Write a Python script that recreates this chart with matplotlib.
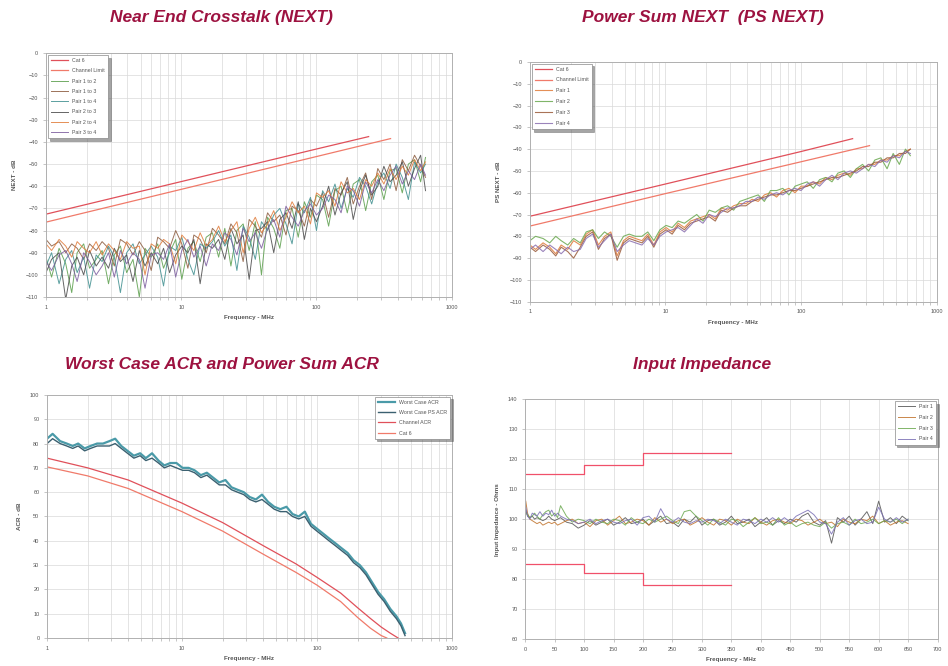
import matplotlib
matplotlib.use("Agg")
import matplotlib.pyplot as plt
from matplotlib.ticker import NullFormatter

plt.rcParams['font.family'] = ['Liberation Sans', 'DejaVu Sans']

TITLE_COLOR = '#9d1240'
LIMIT_COLOR = '#e0505a'
GRID_COLOR = '#d9d9d9'
TEXT_COLOR = '#555555'

# ---------------- NEXT / PS NEXT frequencies (MHz) ----------------
freq = [1.0, 1.1, 1.25, 1.4, 1.55, 1.7, 1.9, 2.1, 2.35,
        2.6, 2.9, 3.2, 3.55, 3.95, 4.4, 4.9, 5.4, 6.0,
        6.7, 7.4, 8.2, 9.1, 10.1, 11.2, 12.4, 13.8, 15.3,
        17.0, 18.9, 21.0, 23.3, 25.8, 28.7, 31.8, 35.3, 39.2,
        43.5, 48.3, 53.6, 59.5, 66.0, 73.3, 81.4, 90.3, 100,
        111, 123, 137, 152, 169, 187, 208, 231, 256,
        284, 315, 350, 388, 431, 478, 531, 589, 640]

next_labels = ['Pair 1 to 2', 'Pair 1 to 3', 'Pair 1 to 4',
               'Pair 2 to 3', 'Pair 2 to 4', 'Pair 3 to 4']
next_colors = ['#5a9e4b', '#8b5a3c', '#3f8f8f', '#4a4a4a', '#e07b39', '#7b5c9e']

next_12 = [-92, -101, -88, -95, -108, -90, -86, -97, -93,
           -89, -104, -91, -87, -99, -93, -110, -88, -92,
           -86, -97, -90, -84, -102, -88, -85, -94, -83,
           -81, -92, -79, -96, -80, -77, -89, -76, -100,
           -74, -79, -88, -71, -70, -83, -67, -74, -64,
           -66, -78, -62, -60, -72, -59, -57, -71, -58,
           -55, -66, -53, -52, -63, -50, -48, -58, -47]
next_13 = [-84, -87, -85, -90, -86, -88, -93, -86, -89,
           -85, -88, -96, -84, -86, -91, -85, -89, -98,
           -83, -85, -88, -80, -86, -97, -82, -84, -90,
           -79, -82, -86, -77, -81, -94, -75, -78, -83,
           -72, -76, -73, -82, -69, -71, -78, -66, -69,
           -63, -74, -61, -64, -56, -68, -60, -54, -66,
           -52, -57, -50, -62, -48, -53, -46, -51, -56]
next_14 = [-96, -90, -104, -93, -89, -99, -92, -106, -91,
           -94, -87, -92, -108, -90, -86, -95, -91, -87,
           -92, -105, -87, -89, -83, -93, -100, -86, -88,
           -85, -80, -87, -82, -98, -78, -83, -93, -76,
           -80, -73, -70, -77, -86, -68, -72, -65, -80,
           -62, -67, -59, -70, -61, -65, -56, -60, -68,
           -58, -54, -61, -50, -56, -66, -49, -54, -50]
next_23 = [-99, -93, -90, -111, -96, -92, -100, -89, -96,
           -92, -97, -88, -94, -91, -103, -89, -96, -90,
           -95, -88, -99, -91, -87, -90, -84, -104, -86,
           -88, -84, -93, -79, -86, -82, -102, -80, -79,
           -76, -90, -75, -72, -79, -67, -84, -70, -76,
           -69, -60, -73, -63, -58, -75, -62, -55, -64,
           -60, -51, -58, -55, -49, -60, -52, -46, -62]
next_24 = [-86, -89, -84, -87, -92, -85, -88, -90, -85,
           -91, -86, -89, -93, -85, -88, -87, -100, -86,
           -88, -84, -86, -95, -82, -85, -89, -81, -87,
           -84, -78, -85, -80, -76, -90, -79, -74, -81,
           -77, -71, -80, -74, -67, -72, -69, -77, -63,
           -65, -62, -69, -58, -63, -61, -66, -57, -60,
           -54, -59, -52, -57, -51, -55, -48, -53, -49]
next_34 = [-94, -98, -91, -89, -95, -103, -90, -94, -100,
           -96, -90, -101, -89, -95, -90, -93, -106, -91,
           -90, -93, -86, -101, -89, -84, -92, -87, -96,
           -86, -89, -81, -84, -91, -79, -85, -81, -88,
           -79, -75, -83, -69, -74, -78, -71, -68, -73,
           -70, -64, -66, -72, -60, -62, -69, -58, -63,
           -57, -62, -55, -51, -59, -53, -57, -50, -55]

# NEXT limit lines
next_lim_a_f = [1, 10, 100, 243]
next_lim_a = [-72.6, -57.9, -43.2, -37.6]
next_lim_b_f = [1, 10, 100, 353]
next_lim_b = [-76.2, -61.4, -46.6, -38.5]

# ---------------- PS NEXT ----------------
ps_labels = ['Pair 1', 'Pair 2', 'Pair 3', 'Pair 4']
ps_colors = ['#e07b39', '#6aa84f', '#9a5b3a', '#8a6fb0']
ps_1 = [-84, -86, -83, -85, -88, -84, -86, -82, -84,
        -79, -77, -84, -80, -78, -89, -82, -80, -81,
        -82, -79, -84, -78, -76, -78, -74, -76, -73,
        -72, -71, -70, -72, -67, -68, -66, -65, -65,
        -63, -64, -61, -60, -62, -59, -58, -60, -57,
        -57, -55, -56, -53, -54, -52, -51, -52, -49,
        -49, -47, -47, -45, -45, -43, -43, -41, -40]
ps_2 = [-82, -80, -81, -83, -80, -82, -84, -81, -83,
        -78, -77, -81, -78, -80, -85, -80, -79, -80,
        -80, -78, -82, -77, -75, -76, -73, -74, -72,
        -70, -73, -68, -69, -67, -66, -68, -64, -63,
        -62, -61, -64, -59, -59, -58, -61, -57, -56,
        -55, -58, -54, -53, -55, -51, -50, -53, -49,
        -47, -50, -45, -44, -49, -42, -47, -40, -43]
ps_3 = [-85, -87, -84, -86, -89, -85, -87, -90, -85,
        -80, -78, -86, -81, -79, -91, -83, -81, -82,
        -83, -80, -85, -79, -77, -79, -75, -77, -74,
        -73, -72, -71, -73, -68, -69, -67, -66, -66,
        -64, -63, -62, -61, -61, -60, -59, -59, -58,
        -57, -56, -55, -54, -53, -53, -52, -51, -50,
        -48, -48, -46, -46, -44, -44, -42, -42, -40]
ps_4 = [-86, -84, -87, -84, -86, -88, -85, -87, -86,
        -81, -79, -85, -82, -79, -87, -84, -82, -83,
        -84, -81, -84, -80, -78, -77, -76, -78, -75,
        -72, -74, -70, -71, -69, -67, -67, -66, -64,
        -64, -62, -63, -61, -60, -61, -59, -58, -59,
        -56, -55, -57, -54, -52, -54, -51, -50, -51,
        -49, -47, -48, -45, -46, -43, -44, -41, -42]

ps_lim_a_f = [1, 10, 100, 240]
ps_lim_a = [-70.8, -56.0, -41.1, -35.2]
ps_lim_b_f = [1, 10, 100, 320]
ps_lim_b = [-75.3, -60.4, -45.8, -38.4]

# ---------------- ACR ----------------
acr_freq = [1.0, 1.1, 1.25, 1.4, 1.55, 1.7, 1.9, 2.1, 2.35,
            2.6, 2.9, 3.2, 3.55, 3.95, 4.4, 4.9, 5.4, 6.0,
            6.7, 7.4, 8.2, 9.1, 10.1, 11.2, 12.4, 13.8, 15.3,
            17.0, 18.9, 21.0, 23.3, 25.8, 28.7, 31.8, 35.3, 39.2,
            43.5, 48.3, 53.6, 59.5, 66.0, 73.3, 81.4, 90.3, 100,
            111, 123, 137, 152, 169, 187, 208, 231, 256,
            284, 315, 350, 388, 420, 450]
acr_wc = [82, 84, 81, 80, 79, 80, 78, 79, 80,
          80, 81, 82, 79, 77, 75, 76, 74, 76,
          73, 71, 72, 72, 70, 70, 69, 67, 68,
          66, 64, 65, 62, 61, 60, 58, 57, 59,
          56, 54, 53, 54, 51, 50, 52, 47, 45,
          43, 41, 39, 37, 35, 32, 30, 27, 23,
          19, 16, 12, 9, 6, 2]
acr_ps = [80, 82, 80, 79, 78, 79, 77, 78, 79,
          79, 79, 80, 78, 76, 74, 75, 73, 74,
          72, 70, 71, 70, 69, 69, 68, 66, 67,
          65, 63, 63, 61, 60, 59, 57, 56, 57,
          55, 53, 52, 52, 50, 49, 50, 46, 44,
          42, 40, 38, 36, 34, 31, 29, 26, 22,
          18, 15, 11, 8, 5, 1]
acr_lim_a_f = [1, 2, 4, 10, 20, 40, 70, 100, 150, 200, 250, 300, 350, 400]
acr_lim_a = [74, 70, 65, 55.5, 47.5, 38, 30.5, 25, 18.5, 12.5, 8, 4.5, 2, 0]
acr_lim_b_f = [1, 2, 4, 10, 20, 40, 70, 100, 150, 200, 250, 300, 330]
acr_lim_b = [70.4, 66.7, 61.5, 52, 44, 34.5, 27, 21.8, 15, 8.5, 4, 1, 0]

# ---------------- Input impedance ----------------
imp_freq = [1, 4, 8, 12, 16, 20, 25, 30, 35, 40,
            45, 50, 55, 60, 70, 80, 90, 100, 110, 120,
            130, 140, 150, 160, 170, 180, 190, 200, 210, 220,
            230, 240, 250, 260, 270, 280, 290, 300, 310, 320,
            330, 340, 350, 360, 370, 380, 390, 400, 410, 420,
            430, 440, 450, 460, 470, 480, 490, 500, 510, 520,
            530, 540, 550, 560, 570, 580, 590, 600, 610, 620,
            630, 640, 650]
imp_labels = ['Pair 1', 'Pair 2', 'Pair 3', 'Pair 4']
imp_colors = ['#555555', '#c0722a', '#6aa84f', '#7a6fb5']
imp_1 = [103, 101, 100.5, 101, 100, 100.5, 100, 99.5, 100, 101,
         100, 99.5, 100, 100.5, 99, 98.5, 97, 98, 99.5, 98,
         99, 100, 98, 99, 100.5, 98.5, 99, 100, 98, 99.5,
         101, 98.5, 99, 97.5, 100, 99, 101, 98, 99.5, 100,
         98, 99, 101, 98.5, 99, 100, 97.5, 99, 100.5, 98,
         99.5, 98.5, 100, 99, 101, 102, 99, 98, 99.5, 92,
         100.5, 99, 101, 98, 100, 102.5, 98.5, 106, 99, 100.5,
         98.5, 101, 99.5]
imp_2 = [106, 102, 100, 99.5, 99, 98.5, 99, 98, 98.5, 99,
         98.5, 99, 98, 98.5, 99.5, 100, 98.5, 99, 97.5, 99.5,
         100, 98, 99.5, 101, 98.5, 99, 100, 99.5, 98, 100.5,
         99, 100, 98.5, 99.5, 100, 98, 99, 100.5, 99, 98,
         100, 99.5, 98, 100, 99, 98.5, 100.5, 99, 98, 99.5,
         100, 99, 98.5, 100, 99.5, 98, 99, 100, 98.5, 99,
         97.5, 100, 99, 98.5, 100, 99.5, 101, 98.5, 99.5, 98,
         99, 99.5, 98.5]
imp_3 = [102, 101.5, 100.5, 101, 102, 101, 100, 101.5, 102.5, 103,
         101, 102, 100.5, 104.5, 101, 99, 100, 99.5, 98.5, 100,
         99, 98.5, 100, 99.5, 98, 100.5, 99, 98.5, 100, 99,
         100, 101, 99.5, 98.5, 102.5, 103, 101, 99.5, 98, 100,
         99, 98, 100, 99.5, 97.5, 99, 100.5, 98.5, 99, 98,
         100.5, 98, 99, 97.5, 98.5, 99, 98, 97.5, 99, 97,
         98.5, 99, 98, 100, 98.5, 99, 100, 98.5, 99.5, 99,
         100, 98.5, 100]
imp_4 = [104, 101, 100, 102, 101.5, 101, 102.5, 101, 102, 101.5,
         103, 101, 102, 101, 100, 99.5, 98.5, 99, 100, 98.5,
         99.5, 100, 99, 98.5, 99.5, 100, 98, 100.5, 101, 99,
         103.5, 100, 99, 100.5, 99, 98.5, 99.5, 99, 100, 99.5,
         98.5, 100, 99, 98, 100, 99.5, 98.5, 100, 99, 100.5,
         99, 100.5, 99, 101, 102, 103, 101.5, 99, 98.5, 95,
         99, 100.5, 98, 99.5, 100, 98.5, 99, 104, 100, 99,
         100.5, 99, 100]
imp_hi_f = [1, 100, 200, 350]
imp_hi = [115, 118, 122, 122]
imp_lo_f = [1, 100, 200, 350]
imp_lo = [85, 82, 78, 78]


def style_axes(ax, xlabel, ylabel):
    ax.grid(True, which='both', color=GRID_COLOR, lw=0.5)
    ax.set_axisbelow(True)
    for s in ax.spines.values():
        s.set_color('#b0b0b0')
        s.set_linewidth(0.7)
    ax.tick_params(which='both', labelsize=4, colors='#999999',
                   labelcolor=TEXT_COLOR, length=2, width=0.4)
    ax.set_xlabel(xlabel, fontsize=4.5, fontweight='bold', color=TEXT_COLOR, labelpad=4)
    ax.set_ylabel(ylabel, fontsize=4.5, fontweight='bold', color=TEXT_COLOR, labelpad=6)


def log_x(ax):
    ax.set_xscale('log')
    ax.set_xlim(1, 1000)
    ax.set_xticks([1, 10, 100, 1000])
    ax.set_xticklabels(['1', '10', '100', '1000'])
    ax.xaxis.set_minor_formatter(NullFormatter())


def small_legend(ax, loc, spacing=0.9):
    leg = ax.legend(loc=loc, fontsize=3.8, frameon=True, fancybox=False,
                    shadow=True, borderpad=0.6, handlelength=3.2,
                    labelspacing=spacing, borderaxespad=0.3)
    leg.get_frame().set_edgecolor('#888888')
    leg.get_frame().set_linewidth(0.5)
    for t in leg.get_texts():
        t.set_color(TEXT_COLOR)


fig = plt.figure(figsize=(9.48, 6.66), dpi=100)

# ---- Near End Crosstalk ----
ax1 = fig.add_axes([0.0485, 0.554, 0.428, 0.366])
ax1.plot(next_lim_a_f, next_lim_a, color=LIMIT_COLOR, lw=0.9, label='Cat 6')
ax1.plot(next_lim_b_f, next_lim_b, color='#f07a6a', lw=0.9, label='Channel Limit')
for vals, lab, c in zip([next_12, next_13, next_14, next_23, next_24, next_34],
                        next_labels, next_colors):
    ax1.plot(freq, vals, color=c, lw=0.7, alpha=0.85, label=lab)
log_x(ax1)
ax1.set_ylim(-110, 0)
ax1.set_yticks(range(-110, 1, 10))
style_axes(ax1, 'Frequency - MHz', 'NEXT - dB')
small_legend(ax1, 'upper left', 1.0)

# ---- Power Sum NEXT ----
ax2 = fig.add_axes([0.559, 0.547, 0.429, 0.360])
ax2.plot(ps_lim_a_f, ps_lim_a, color=LIMIT_COLOR, lw=0.9, label='Cat 6')
ax2.plot(ps_lim_b_f, ps_lim_b, color='#f07a6a', lw=0.9, label='Channel Limit')
for vals, lab, c in zip([ps_1, ps_2, ps_3, ps_4], ps_labels, ps_colors):
    ax2.plot(freq, vals, color=c, lw=0.8, alpha=0.85, label=lab)
log_x(ax2)
ax2.set_ylim(-110, 0)
ax2.set_yticks(range(-110, 1, 10))
style_axes(ax2, 'Frequency - MHz', 'PS NEXT - dB')
small_legend(ax2, 'upper left', 1.1)

# ---- ACR ----
ax3 = fig.add_axes([0.0496, 0.042, 0.427, 0.365])
ax3.plot(acr_freq, acr_wc, color='#4a9aa8', lw=1.6, label='Worst Case ACR')
ax3.plot(acr_freq, acr_ps, color='#3b6070', lw=1.0, label='Worst Case PS ACR')
ax3.plot(acr_lim_a_f, acr_lim_a, color=LIMIT_COLOR, lw=0.9, label='Channel ACR')
ax3.plot(acr_lim_b_f, acr_lim_b, color='#f07a6a', lw=0.9, label='Cat 6')
log_x(ax3)
ax3.set_ylim(0, 100)
ax3.set_yticks(range(0, 101, 10))
style_axes(ax3, 'Frequency - MHz', 'ACR - dB')
small_legend(ax3, 'upper right', 1.0)

# ---- Input impedance ----
ax4 = fig.add_axes([0.554, 0.0405, 0.435, 0.360])
for vals, lab, c in zip([imp_1, imp_2, imp_3, imp_4], imp_labels, imp_colors):
    ax4.plot(imp_freq, vals, color=c, lw=0.7, alpha=0.85, label=lab)
ax4.step(imp_hi_f, imp_hi, where='post', color='#f0506a', lw=0.9)
ax4.step(imp_lo_f, imp_lo, where='post', color='#f0506a', lw=0.9)
ax4.set_xlim(0, 700)
ax4.set_xticks(range(0, 701, 50))
ax4.set_ylim(60, 140)
ax4.set_yticks(range(60, 141, 10))
style_axes(ax4, 'Frequency - MHz', 'Input Impedance - Ohms')
small_legend(ax4, 'upper right', 1.1)

# titles
title_kw = dict(fontsize=12.5, fontweight='bold', style='italic',
                color=TITLE_COLOR, ha='center', va='center')
fig.text(0.234, 0.973, 'Near End Crosstalk (NEXT)', **title_kw)
fig.text(0.741, 0.973, 'Power Sum NEXT  (PS NEXT)', **title_kw)
fig.text(0.234, 0.452, 'Worst Case ACR and Power Sum ACR', **title_kw)
fig.text(0.741, 0.452, 'Input Impedance', **title_kw)

fig.savefig('out.png', dpi=100)
